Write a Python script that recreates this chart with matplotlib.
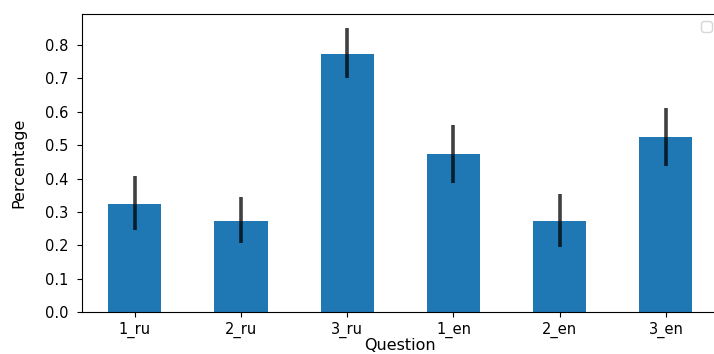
import numpy as np
import matplotlib
matplotlib.use("Agg")
import matplotlib.pyplot as plt

# ======================================
# DATA
# ======================================

questions = ["1_ru", "2_ru", "3_ru", "1_en", "2_en", "3_en"]
percentage = [0.324, 0.274, 0.774, 0.474, 0.274, 0.523]
err_low = [0.245, 0.206, 0.700, 0.387, 0.194, 0.437]
err_high = [0.408, 0.345, 0.850, 0.561, 0.353, 0.612]

yerr = [
    np.array(percentage) - np.array(err_low),
    np.array(err_high) - np.array(percentage),
]

# ======================================
# PLOT
# ======================================

fig = plt.figure(figsize=(7.14, 3.54), dpi=100)
ax = fig.add_axes([0.1144, 0.1186, 0.8926, 0.8419])

x = np.arange(len(questions))

ax.bar(
    x,
    percentage,
    width=0.5,
    color="#1f77b4",
    yerr=yerr,
    error_kw={"ecolor": "black", "elinewidth": 2.6, "alpha": 0.75, "capsize": 0},
)

ax.set_xlim(-0.5, len(questions) - 0.5)
ax.set_ylim(0, 0.893)
ax.set_yticks(np.arange(0, 0.81, 0.1))
ax.set_xticks(x)
ax.set_xticklabels(questions, rotation=0)

ax.tick_params(axis="both", labelsize=10.5)
ax.tick_params(axis="y", pad=6)

ax.set_xlabel("Question", fontsize=11.5)
ax.xaxis.set_label_coords(0.5, -0.087)
ax.xaxis.label.set_va("top")

ax.set_ylabel("Percentage", fontsize=11.5)
ax.yaxis.set_label_coords(-0.086, 0.5)

ax.legend(handles=[], loc="upper right")

fig.savefig("out.png", dpi=100)
